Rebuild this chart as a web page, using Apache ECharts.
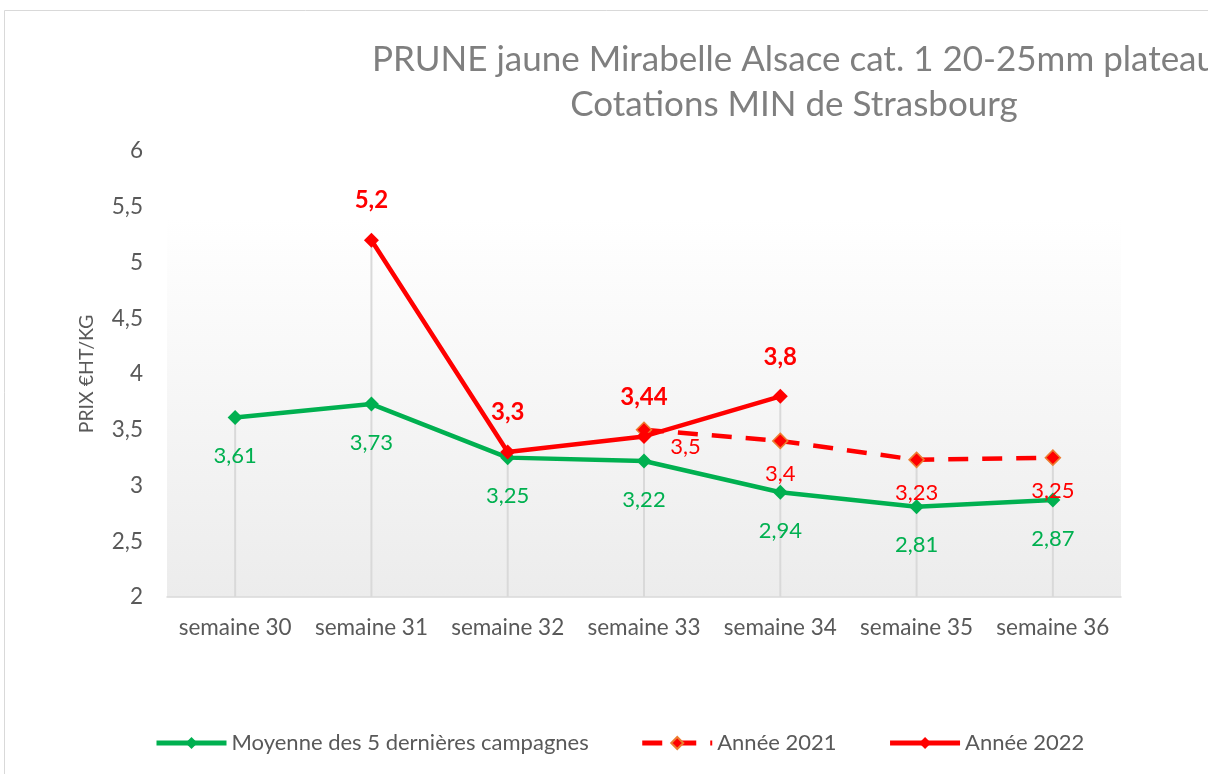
<!DOCTYPE html>
<html>
<head>
<meta charset="utf-8">
<script src="https://cdn.jsdelivr.net/npm/echarts@6/dist/echarts.min.js"></script>
<style>
html,body{margin:0;padding:0;background:#fff;}
#chart{width:1208px;height:774px;}
</style>
</head>
<body>
<div id="chart"></div>
<script>
var categories = ['semaine 30','semaine 31','semaine 32','semaine 33','semaine 34','semaine 35','semaine 36'];
var moyenne = [3.61, 3.73, 3.25, 3.22, 2.94, 2.81, 2.87];
var annee2021 = [null, null, null, 3.5, 3.4, 3.23, 3.25];
var annee2022 = [null, 5.2, 3.3, 3.44, 3.8, null, null];
var yTicks = {min: 2, max: 6, interval: 0.5};
var titleLines = ['PRUNE jaune Mirabelle Alsace cat. 1 20-25mm plateau', 'Cotations MIN de Strasbourg'];
var seriesNames = ['Moyenne des 5 dernières campagnes', 'Année 2021', 'Année 2022'];

var FONT = 'Lato';
function fmt(v){ return String(v).replace('.', ','); }

// drop line tops: highest value per category
var dropTops = categories.map(function(c, i){
  var vals = [moyenne[i], annee2021[i], annee2022[i]].filter(function(v){return v != null;});
  return Math.max.apply(null, vals);
});

var chart = echarts.init(document.getElementById('chart'));
chart.setOption({
  animation: false,
  backgroundColor: '#ffffff',
  graphic: [{
    type: 'rect', shape: {x: 4.5, y: 10.5, width: 1300, height: 900},
    style: {fill: 'none', stroke: '#d9d9d9', lineWidth: 1}, silent: true, z: -10
  }],
  title: {
    text: titleLines.join('\n'),
    left: 789, top: 32, textAlign: 'center',
    textStyle: {fontFamily: FONT, fontSize: 35, fontWeight: 'normal', color: '#7f7f7f', lineHeight: 45}
  },
  grid: {
    left: 167, right: 87, top: 151, bottom: 177,
    show: true, borderWidth: 0,
    backgroundColor: {type: 'linear', x: 0, y: 0, x2: 0, y2: 1,
      colorStops: [{offset: 0, color: '#ffffff'}, {offset: 0.15, color: '#ffffff'}, {offset: 1, color: '#ececec'}]}
  },
  legend: {
    bottom: 15, left: 149,
    itemWidth: 70, itemHeight: 15, itemGap: 51,
    lineStyle: {width: 5},
    textStyle: {fontFamily: FONT, fontSize: 22, color: '#595959'},
    data: seriesNames
  },
  xAxis: {
    type: 'category', data: categories, boundaryGap: true,
    axisLine: {lineStyle: {color: '#d9d9d9', width: 1.5}},
    axisTick: {show: false},
    axisLabel: {interval: 0, hideOverlap: false, fontFamily: FONT, fontSize: 22.5, color: '#595959', margin: 19}
  },
  yAxis: {
    type: 'value', min: yTicks.min, max: yTicks.max, interval: yTicks.interval,
    name: 'PRIX €HT/KG', nameLocation: 'middle', nameGap: 70, nameRotate: 90,
    nameTextStyle: {fontFamily: FONT, fontSize: 19.5, color: '#595959'},
    axisLine: {show: false}, axisTick: {show: false}, splitLine: {show: false},
    axisLabel: {fontFamily: FONT, fontSize: 22.5, color: '#595959', margin: 24, formatter: function(v){return fmt(v);}}
  },
  series: [
    {
      type: 'custom', name: 'drop', silent: true, z: 1,
      data: dropTops.map(function(v, i){ return [i, v]; }),
      renderItem: function(params, api){
        var top = api.coord([api.value(0), api.value(1)]);
        var bot = api.coord([api.value(0), yTicks.min]);
        return {type: 'line', shape: {x1: top[0], y1: top[1], x2: bot[0], y2: bot[1]},
          style: {stroke: '#d9d9d9', lineWidth: 2}};
      }
    },
    {
      name: seriesNames[0], type: 'line', data: moyenne, z: 3,
      symbol: 'diamond', symbolSize: 15,
      lineStyle: {color: '#00b050', width: 4.5},
      itemStyle: {color: '#00b050'},
      label: {show: true, position: 'bottom', distance: 20, fontFamily: FONT, fontSize: 22, color: '#00b050',
        formatter: function(p){return fmt(p.value);}}
    },
    {
      name: seriesNames[1], type: 'line', z: 4,
      data: annee2021.map(function(v, i){
        if (i === 3) return {value: v, label: {position: 'right', offset: [4, 17]}};
        return v;
      }),
      symbol: 'diamond', symbolSize: 15,
      lineStyle: {color: '#ff0000', width: 4.5, type: [20, 14]},
      itemStyle: {color: '#ff0000', borderColor: '#ed7d31', borderWidth: 1.5},
      label: {show: true, position: 'bottom', distance: 14, fontFamily: FONT, fontSize: 22, color: '#ff0000',
        formatter: function(p){return fmt(p.value);}}
    },
    {
      name: seriesNames[2], type: 'line', data: annee2022, z: 5,
      symbol: 'diamond', symbolSize: 15,
      lineStyle: {color: '#ff0000', width: 4.5},
      itemStyle: {color: '#ff0000'},
      label: {show: true, position: 'top', distance: 20, fontFamily: FONT, fontSize: 24, fontWeight: 'bold', color: '#ff0000',
        formatter: function(p){return fmt(p.value);}}
    }
  ]
});
</script>
</body>
</html>
